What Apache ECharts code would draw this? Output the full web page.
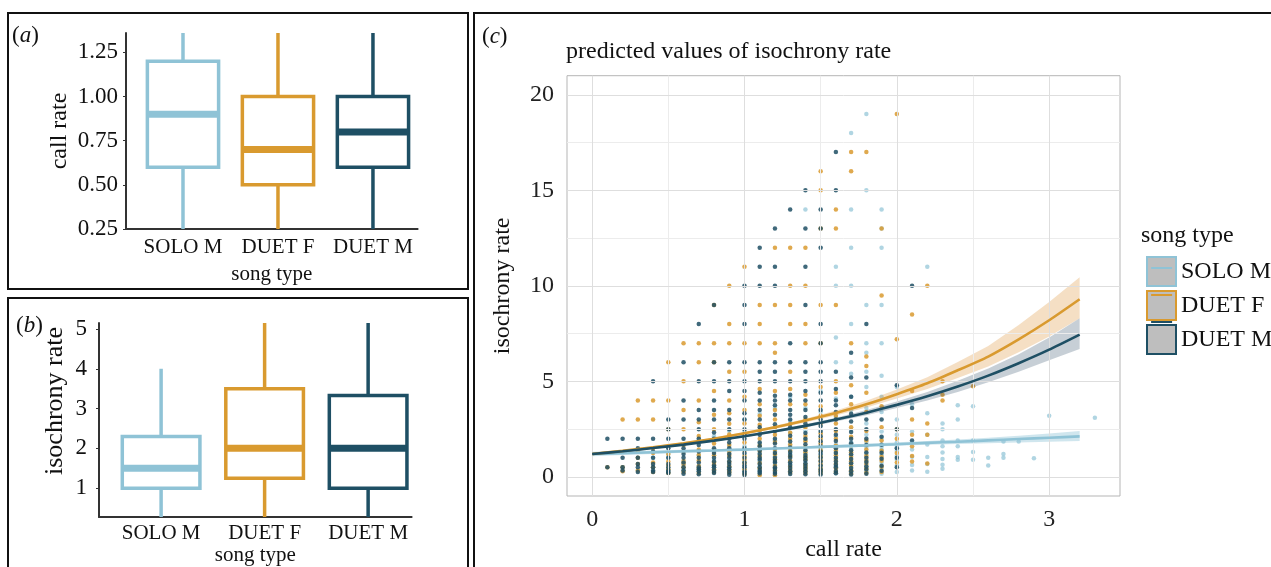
<!DOCTYPE html>
<html>
<head>
<meta charset="UTF-8">
<title>song type call rate isochrony</title>
<script src="https://cdn.jsdelivr.net/npm/echarts@6/dist/echarts.min.js"></script>
<style>
  html, body { margin: 0; padding: 0; background: #fff; }
  #main { width: 1271px; height: 567px; }
</style>
</head>
<body>
<div id="main"></div>
<script type="text/javascript">
// song types and their colours
var songTypes = ['SOLO M', 'DUET F', 'DUET M'];
var songColors = ['#8fc3d6', '#d99a2f', '#1e4f64'];
var bandColors = ['rgba(143,195,214,0.42)', 'rgba(222,150,60,0.30)', 'rgba(40,70,95,0.26)'];

// (a) call rate boxes: [low, q1, median, q3, high]
var callRateBox = [
  [0.25, 0.60, 0.90, 1.20, 1.36],
  [0.25, 0.50, 0.70, 1.00, 1.36],
  [0.25, 0.60, 0.80, 1.00, 1.36]
];
var callRateTicks = [0.25, 0.5, 0.75, 1, 1.25];

// (b) isochrony rate boxes
var isoRateBox = [
  [0.275, 1.00, 1.50, 2.30, 4.00],
  [0.275, 1.25, 2.00, 3.50, 5.15],
  [0.275, 1.00, 2.00, 3.33, 5.15]
];
var isoRateTicks = [1, 2, 3, 4, 5];

// (c) model predictions with confidence band
var predX = [0, 0.2, 0.4, 0.6, 0.8, 1.0, 1.2, 1.4, 1.6, 1.8, 2.0, 2.2, 2.4, 2.6, 2.8, 3.0, 3.2];
var predSoloM = [1.2, 1.24, 1.29, 1.34, 1.38, 1.43, 1.49, 1.54, 1.6, 1.65, 1.71, 1.78, 1.84, 1.91, 1.98, 2.05, 2.12];
var loSoloM   = [1.08, 1.14, 1.2, 1.26, 1.31, 1.37, 1.42, 1.48, 1.53, 1.58, 1.63, 1.68, 1.72, 1.76, 1.8, 1.84, 1.88];
var hiSoloM   = [1.32, 1.34, 1.38, 1.42, 1.45, 1.5, 1.55, 1.61, 1.67, 1.73, 1.81, 1.88, 1.96, 2.05, 2.15, 2.27, 2.4];
var predDuetF = [1.2, 1.36, 1.55, 1.76, 2.0, 2.28, 2.6, 2.95, 3.35, 3.8, 4.33, 4.9, 5.58, 6.3, 7.2, 8.2, 9.3];
var loDuetF   = [1.12, 1.30, 1.49, 1.70, 1.94, 2.21, 2.52, 2.85, 3.22, 3.63, 4.1, 4.6, 5.18, 5.78, 6.52, 7.35, 8.3];
var hiDuetF   = [1.28, 1.42, 1.61, 1.82, 2.06, 2.35, 2.68, 3.05, 3.48, 3.98, 4.58, 5.22, 6.02, 6.85, 7.95, 9.15, 10.45];
var predDuetM = [1.2, 1.34, 1.51, 1.69, 1.9, 2.13, 2.39, 2.67, 3.0, 3.36, 3.77, 4.22, 4.73, 5.3, 5.95, 6.66, 7.45];
var loDuetM   = [1.13, 1.28, 1.46, 1.64, 1.85, 2.07, 2.32, 2.59, 2.9, 3.23, 3.6, 4.0, 4.45, 4.95, 5.5, 6.1, 6.7];
var hiDuetM   = [1.27, 1.40, 1.56, 1.74, 1.95, 2.19, 2.46, 2.76, 3.1, 3.5, 3.95, 4.45, 5.03, 5.68, 6.42, 7.3, 8.3];

var callTicks = [0, 1, 2, 3];
var isoTicks = [0, 5, 10, 15, 20];
var xGridMajor = [0, 1, 2, 3];
var xGridMinor = [0.5, 1.5, 2.5];
var yGridMajor = [0, 5, 10, 15, 20];
var yGridMinor = [2.5, 7.5, 12.5, 17.5];

// observed points: [call rate, [isochrony rates]]
var obsSoloM = [
  [0.2, [0.5]], [0.3, [0.33, 1]], [0.4, [0.5, 1]], [0.5, [0.4, 1, 1.2]],
  [0.6, [0.33, 0.67, 1.33]], [0.7, [0.29, 0.57, 1.14, 2]],
  [0.8, [0.25, 0.5, 0.88, 1.38, 2.13]], [0.9, [0.22, 0.56, 0.89, 1.22, 1.56, 2.4]],
  [1.0, [0.2, 0.4, 0.8, 1.2, 1.6, 2.4, 3]], [1.1, [0.27, 0.55, 0.82, 1.27, 1.73, 2.36, 3.3]],
  [1.2, [0.33, 0.67, 1.08, 1.33, 1.92, 2.5, 3.6]], [1.3, [0.31, 0.69, 1.23, 1.62, 2.31, 2.92, 4.2]],
  [1.4, [0.29, 0.64, 1.21, 1.5, 1.93, 2.43, 3.6, 14]],
  [1.5, [0.27, 0.53, 1.13, 1.47, 1.73, 2.33, 3.4, 4.5]],
  [1.6, [0.19, 0.56, 0.94, 1.31, 1.69, 2.13, 3.13, 4.1, 6, 7.3, 10, 11]],
  [1.7, [0.24, 0.53, 0.76, 1.12, 1.47, 1.82, 2.47, 3.5, 4.2, 5.4, 6, 8, 10, 12, 14, 18]],
  [1.8, [0.28, 0.5, 0.83, 1.22, 1.56, 1.83, 2.2, 2.8, 3.6, 4.7, 5.5, 6.5, 7, 9, 15, 19]],
  [1.9, [0.16, 0.47, 0.74, 1.16, 1.42, 1.58, 2.05, 2.37, 3.4, 4.2, 5.3, 7, 9, 12, 13, 14]],
  [2.0, [0.25, 0.6, 0.9, 1.1, 1.35, 1.55, 1.8, 2.2, 3, 4.7]],
  [2.1, [0.33, 0.62, 1.05, 1.43, 1.81, 2.38, 3.8]],
  [2.2, [0.27, 0.68, 1.04, 1.7, 2.2, 3.33, 11]],
  [2.3, [0.42, 0.63, 0.94, 1.28, 1.6, 1.9, 2.5, 2.8]],
  [2.4, [0.9, 1.04, 1.6, 1.9, 3.0, 3.75]], [2.5, [0.9, 1.3, 1.9, 3.7]],
  [2.6, [0.6, 1.0]], [2.7, [1.0, 1.2, 1.85]], [2.8, [1.85]], [2.9, [0.98]],
  [3.0, [3.2]], [3.3, [3.1]]
];
var obsDuetF = [
  [0.1, [0.5]], [0.2, [0.3, 0.5, 3]], [0.3, [0.33, 0.67, 1, 1.33, 3, 4]],
  [0.4, [0.25, 0.5, 0.75, 1.25, 1.5, 3, 4]],
  [0.5, [0.2, 0.4, 0.6, 0.8, 1.2, 1.6, 2.5, 4, 6]],
  [0.6, [0.25, 0.5, 0.67, 0.83, 1.33, 1.67, 2.5, 3.5, 5, 7]],
  [0.7, [0.21, 0.43, 0.57, 0.86, 1.14, 1.43, 2.14, 2.86, 4, 6, 7]],
  [0.8, [0.25, 0.4, 0.63, 0.75, 1.13, 1.38, 1.75, 2.5, 3.25, 4.5, 6, 7, 9]],
  [0.9, [0.22, 0.33, 0.56, 0.78, 1.11, 1.33, 1.67, 2.22, 2.78, 3.33, 4, 5.5, 7, 8, 10]],
  [1.0, [0.15, 0.4, 0.7, 0.9, 1.1, 1.4, 1.8, 2.2, 2.8, 3.5, 4.2, 5.5, 7, 11]],
  [1.1, [0.09, 0.45, 0.73, 1.09, 1.36, 1.64, 2, 2.45, 2.73, 3.2, 3.8, 4.6, 7, 8, 9]],
  [1.2, [0.08, 0.33, 0.58, 0.92, 1.17, 1.42, 1.83, 2.2, 2.6, 3, 3.5, 4.5, 6.5, 7, 9, 12]],
  [1.3, [0.23, 0.38, 0.54, 0.85, 1.08, 1.38, 1.69, 2, 2.31, 2.77, 3.8, 4.6, 5.5, 8, 9, 10, 12]],
  [1.4, [0.21, 0.36, 0.5, 0.64, 0.93, 1.07, 1.29, 1.57, 1.86, 2.14, 2.57, 3, 3.8, 4.3, 7, 8, 10, 12]],
  [1.5, [0.2, 0.33, 0.47, 0.67, 0.87, 1.07, 1.4, 1.73, 2, 2.27, 2.8, 3.2, 3.7, 4.7, 7, 9, 13, 15, 16]],
  [1.6, [0.25, 0.44, 0.69, 0.88, 1.13, 1.38, 1.63, 2, 2.4, 2.8, 3.2, 4.4, 5, 9, 13, 14]],
  [1.7, [0.18, 0.35, 0.59, 0.82, 1.06, 1.29, 1.65, 2.1, 2.6, 3.8, 4.8, 7, 16, 17]],
  [1.8, [0.22, 0.44, 0.67, 0.89, 1.11, 1.44, 1.9, 2.4, 3.4, 4.4, 5.8, 6.3, 17]],
  [1.9, [0.26, 0.53, 0.84, 1.05, 1.37, 1.9, 2.6, 3.7, 9.5, 13]],
  [2.0, [0.75, 1.25, 2, 2.5, 7.2, 19]],
  [2.1, [0.8, 1.1, 1.6, 2.2, 3, 4.5, 8.5]],
  [2.2, [0.7, 2.2, 2.8, 10]], [2.3, [4.0, 4.3, 5.0]], [2.5, [4.75]]
];
var obsDuetM = [
  [0.1, [0.5, 2]], [0.2, [0.33, 0.5, 1, 2]], [0.3, [0.25, 0.5, 0.67, 1, 1.5, 2]],
  [0.4, [0.25, 0.33, 0.5, 0.67, 1, 1.33, 2, 5]],
  [0.5, [0.2, 0.25, 0.33, 0.5, 0.67, 1, 1.5, 2, 2.5, 3]],
  [0.6, [0.17, 0.33, 0.5, 0.75, 1, 1.2, 1.5, 2, 3, 4, 6]],
  [0.7, [0.14, 0.29, 0.4, 0.5, 0.75, 1, 1.33, 1.67, 2, 2.5, 3, 3.5, 5, 8]],
  [0.8, [0.2, 0.33, 0.5, 0.6, 0.8, 1, 1.25, 1.5, 2, 2.33, 3, 3.5, 4, 5, 6, 9]],
  [0.9, [0.11, 0.25, 0.4, 0.5, 0.67, 0.8, 1, 1.2, 1.5, 1.8, 2, 2.5, 3, 3.5, 4.5, 5, 6]],
  [1.0, [0.1, 0.2, 0.3, 0.5, 0.6, 0.75, 1, 1.25, 1.5, 2, 2.25, 2.5, 3, 3.33, 4, 4.5, 5, 6, 8, 9, 10]],
  [1.1, [0.18, 0.27, 0.36, 0.5, 0.67, 0.9, 1, 1.2, 1.4, 1.6, 1.8, 2.2, 2.6, 3, 3.5, 4, 4.4, 5, 5.5, 6, 10, 11, 12]],
  [1.2, [0.17, 0.25, 0.42, 0.5, 0.75, 0.83, 1, 1.25, 1.5, 1.75, 2, 2.4, 2.75, 3.25, 3.75, 4, 4.25, 5, 5.5, 6, 10, 11, 13]],
  [1.3, [0.15, 0.3, 0.46, 0.62, 0.77, 1, 1.15, 1.3, 1.54, 1.85, 2.15, 2.6, 3, 3.25, 3.5, 4, 4.3, 5, 6, 7, 14]],
  [1.4, [0.14, 0.28, 0.43, 0.57, 0.71, 0.86, 1, 1.14, 1.4, 1.71, 2, 2.3, 2.8, 3.14, 3.5, 4, 4.5, 5, 5.5, 6, 9, 11, 13, 15]],
  [1.5, [0.13, 0.27, 0.4, 0.6, 0.8, 1, 1.2, 1.33, 1.6, 1.87, 2.13, 2.4, 2.67, 3, 3.5, 4, 4.4, 5, 5.5, 6, 7, 8, 12, 13, 14]],
  [1.6, [0.19, 0.31, 0.5, 0.63, 0.81, 1, 1.25, 1.5, 1.88, 2.2, 2.5, 3, 3.4, 3.75, 4, 4.6, 5.5, 15, 17]],
  [1.7, [0.12, 0.29, 0.47, 0.71, 0.94, 1.18, 1.4, 1.76, 2, 2.35, 2.9, 3.3, 4.2, 5.2, 6.5]],
  [1.8, [0.17, 0.39, 0.56, 0.78, 1, 1.28, 1.67, 2, 2.5, 3, 5.2, 8]],
  [1.9, [0.32, 0.58, 0.95, 1.26, 1.68, 2.1, 3]],
  [2.0, [0.5, 1, 1.5, 2.5, 4.8]], [2.1, [1.9, 3.6, 10]]
];

var serif = 'Liberation Serif';

function flatten(cols) {
  var out = [];
  cols.forEach(function (c) {
    c[1].forEach(function (y) { out.push([c[0], y]); });
  });
  return out;
}
function pairs(xs, ys) {
  return xs.map(function (x, j) { return [x, ys[j]]; });
}

// box plot drawn as custom series (ggplot style, no whisker caps)
function renderBox(params, api) {
  var x = api.value(0);
  var c = songColors[x - 1];
  var half = api.size([0.75, 0])[0] / 2;
  var p = [1, 2, 3, 4, 5].map(function (k) { return api.coord([x, api.value(k)]); });
  var cx = p[0][0];
  return {
    type: 'group',
    children: [
      { type: 'line', shape: { x1: cx, y1: p[0][1], x2: cx, y2: p[1][1] }, style: { stroke: c, lineWidth: 3.5 } },
      { type: 'line', shape: { x1: cx, y1: p[3][1], x2: cx, y2: p[4][1] }, style: { stroke: c, lineWidth: 3.5 } },
      { type: 'rect', shape: { x: cx - half, y: p[3][1], width: half * 2, height: p[1][1] - p[3][1] },
        style: { fill: '#fff', stroke: c, lineWidth: 3.5 } },
      { type: 'line', shape: { x1: cx - half, y1: p[2][1], x2: cx + half, y2: p[2][1] }, style: { stroke: c, lineWidth: 7 } }
    ]
  };
}

// confidence band: one polygon over all rows [x, lo, hi]
function bandRenderer(color) {
  return function (params, api) {
    if (params.dataIndexInside !== 0) return null;
    var n = params.dataInsideLength;
    var upper = [], lower = [];
    for (var j = 0; j < n; j++) {
      upper.push(api.coord([api.value(0, j), api.value(2, j)]));
      lower.push(api.coord([api.value(0, j), api.value(1, j)]));
    }
    return {
      type: 'polygon',
      shape: { points: upper.concat(lower.reverse()) },
      style: { fill: color, stroke: 'none' }
    };
  };
}

function boxXAxis(gridIndex, max, margin, nameGap) {
  return {
    type: 'value', gridIndex: gridIndex, min: 0.4, max: max,
    name: 'song type', nameLocation: 'middle', nameGap: nameGap,
    nameTextStyle: { fontFamily: serif, fontSize: 21, color: '#111' },
    axisLine: { show: true, lineStyle: { color: '#333', width: 2 } },
    axisTick: { show: false, customValues: [1, 2, 3] },
    axisLabel: { customValues: [1, 2, 3], margin: margin, fontFamily: serif, fontSize: 21, color: '#111',
      formatter: function (v) { return songTypes[Math.round(v) - 1]; } },
    splitLine: { show: false }
  };
}

var lineSeries = [], bandSeries = [], scatterSeries = [];
var preds = [predSoloM, predDuetF, predDuetM];
var los = [loSoloM, loDuetF, loDuetM];
var his = [hiSoloM, hiDuetF, hiDuetM];
var obs = [obsSoloM, obsDuetF, obsDuetM];
songTypes.forEach(function (s, i) {
  lineSeries.push({
    name: s, type: 'line', xAxisIndex: 2, yAxisIndex: 2, z: 5,
    data: pairs(predX, preds[i]), smooth: 0.2, symbol: 'none',
    itemStyle: { color: songColors[i] },
    lineStyle: { color: songColors[i], width: 2.6 }
  });
  bandSeries.push({
    name: s + ' ci', type: 'custom', xAxisIndex: 2, yAxisIndex: 2, z: 3, silent: true,
    renderItem: bandRenderer(bandColors[i]),
    encode: { x: 0, y: [1, 2] },
    data: predX.map(function (x, j) { return [x, los[i][j], his[i][j]]; })
  });
  scatterSeries.push({
    name: s, type: 'scatter', xAxisIndex: 2, yAxisIndex: 2, z: 2,
    data: flatten(obs[i]), symbolSize: 4.5,
    itemStyle: { color: songColors[i], opacity: i === 0 ? 0.7 : 0.85 }
  });
});

var gridLines = {
  type: 'scatter', xAxisIndex: 2, yAxisIndex: 2, data: [], z: 1, silent: true,
  markLine: {
    silent: true, symbol: 'none', label: { show: false }, animation: false,
    data: yGridMinor.map(function (v) { return { yAxis: v, lineStyle: { color: '#ececec', width: 1, type: 'solid' } }; })
      .concat(xGridMinor.map(function (v) { return { xAxis: v, lineStyle: { color: '#ececec', width: 1, type: 'solid' } }; }))
      .concat(yGridMajor.map(function (v) { return { yAxis: v, lineStyle: { color: '#dedede', width: 1, type: 'solid' } }; }))
      .concat(xGridMajor.map(function (v) { return { xAxis: v, lineStyle: { color: '#dedede', width: 1, type: 'solid' } }; }))
  }
};

var option = {
  animation: false,
  backgroundColor: '#fff',
  textStyle: { fontFamily: serif },
  grid: [
    { left: 126, top: 33, width: 291.6, height: 196 },
    { left: 99, top: 323, width: 312.6, height: 195.3 },
    { left: 567, top: 75.7, width: 553, height: 421.6, show: true, borderColor: '#b5b5b5', borderWidth: 1, backgroundColor: 'transparent' }
  ],
  xAxis: [
    boxXAxis(0, 3.47, 8, 35),
    boxXAxis(1, 3.42, 6, 28),
    {
      type: 'value', gridIndex: 2, min: -0.165, max: 3.465,
      name: 'call rate', nameLocation: 'middle', nameGap: 42,
      nameTextStyle: { fontFamily: serif, fontSize: 24, color: '#111' },
      axisLine: { show: false },
      axisTick: { show: true, customValues: callTicks, length: 4, lineStyle: { color: '#b5b5b5' } },
      axisLabel: { customValues: callTicks, margin: 12, fontFamily: serif, fontSize: 24, color: '#222' },
      splitLine: { show: false }
    }
  ],
  yAxis: [
    {
      type: 'value', gridIndex: 0, min: 0.25, max: 1.36,
      name: 'call rate', nameLocation: 'middle', nameGap: 54,
      nameTextStyle: { fontFamily: serif, fontSize: 24, color: '#111' },
      axisLine: { show: true, lineStyle: { color: '#333', width: 2 } },
      axisTick: { show: true, customValues: callRateTicks, length: 3, lineStyle: { color: '#333' } },
      axisLabel: { customValues: callRateTicks, margin: 8, fontFamily: serif, fontSize: 23, color: '#111',
        formatter: function (v) { return v.toFixed(2); } },
      splitLine: { show: false }
    },
    {
      type: 'value', gridIndex: 1, min: 0.275, max: 5.15,
      name: 'isochrony rate', nameLocation: 'middle', nameGap: 31,
      nameTextStyle: { fontFamily: serif, fontSize: 26, color: '#111', padding: [0, 0, 0, 38] },
      axisLine: { show: true, lineStyle: { color: '#333', width: 2 } },
      axisTick: { show: true, customValues: isoRateTicks, length: 3, lineStyle: { color: '#333' } },
      axisLabel: { customValues: isoRateTicks, margin: 12, fontFamily: serif, fontSize: 23, color: '#111' },
      splitLine: { show: false }
    },
    {
      type: 'value', gridIndex: 2, min: -1, max: 21,
      name: 'isochrony rate', nameLocation: 'middle', nameGap: 52,
      nameTextStyle: { fontFamily: serif, fontSize: 24, color: '#111' },
      axisLine: { show: false },
      axisTick: { show: true, customValues: isoTicks, length: 4, lineStyle: { color: '#b5b5b5' } },
      axisLabel: { customValues: isoTicks, margin: 13, fontFamily: serif, fontSize: 24, color: '#222' },
      splitLine: { show: false }
    }
  ],
  legend: [
    {
      data: songTypes.map(function (s, i) { return { name: s, itemStyle: { borderColor: songColors[i] } }; }),
      orient: 'vertical', left: 1141, top: 251,
      itemWidth: 29, itemHeight: 29, itemGap: 3, icon: 'rect', selectedMode: false,
      itemStyle: { color: '#bebebe', borderWidth: 2 },
      textStyle: { fontFamily: serif, fontSize: 24, color: '#111' }
    },
    {
      data: songTypes, orient: 'vertical', left: 1145, top: 251, z: 6,
      itemWidth: 21, itemHeight: 29, itemGap: 3, selectedMode: false,
      itemStyle: { opacity: 0 }, lineStyle: { width: 2 },
      textStyle: { fontFamily: serif, fontSize: 24, color: 'rgba(0,0,0,0)' }
    }
  ],
  graphic: [
    { type: 'rect', shape: { x: 8, y: 13, width: 460, height: 276 }, style: { fill: 'none', stroke: '#111', lineWidth: 2 } },
    { type: 'rect', shape: { x: 8, y: 298, width: 460, height: 290 }, style: { fill: 'none', stroke: '#111', lineWidth: 2 } },
    { type: 'rect', shape: { x: 474, y: 13, width: 820, height: 580 }, style: { fill: 'none', stroke: '#111', lineWidth: 2 } },
    { type: 'text', x: 12, y: 36, style: { text: '({i|a})', rich: { i: { fontStyle: 'italic', fontFamily: serif, fontSize: 23 } },
      font: '23px ' + serif, fill: '#111', verticalAlign: 'middle' } },
    { type: 'text', x: 16, y: 326, style: { text: '({i|b})', rich: { i: { fontStyle: 'italic', fontFamily: serif, fontSize: 23 } },
      font: '23px ' + serif, fill: '#111', verticalAlign: 'middle' } },
    { type: 'text', x: 482, y: 37, style: { text: '({i|c})', rich: { i: { fontStyle: 'italic', fontFamily: serif, fontSize: 23 } },
      font: '23px ' + serif, fill: '#111', verticalAlign: 'middle' } },
    { type: 'text', x: 566, y: 52, style: { text: 'predicted values of isochrony rate', font: '24px ' + serif, fill: '#111', verticalAlign: 'middle' } },
    { type: 'text', x: 1141, y: 236, style: { text: 'song type', font: '24px ' + serif, fill: '#111', verticalAlign: 'middle' } }
  ],
  series: [
    { type: 'custom', name: 'call rate box', xAxisIndex: 0, yAxisIndex: 0, renderItem: renderBox,
      encode: { x: 0, y: [1, 2, 3, 4, 5] },
      data: callRateBox.map(function (b, i) { return [i + 1].concat(b); }) },
    { type: 'custom', name: 'isochrony box', xAxisIndex: 1, yAxisIndex: 1, renderItem: renderBox,
      encode: { x: 0, y: [1, 2, 3, 4, 5] },
      data: isoRateBox.map(function (b, i) { return [i + 1].concat(b); }) },
    gridLines
  ].concat(lineSeries, bandSeries, scatterSeries)
};

var myChart = echarts.init(document.getElementById('main'));
myChart.setOption(option);
</script>
</body>
</html>
